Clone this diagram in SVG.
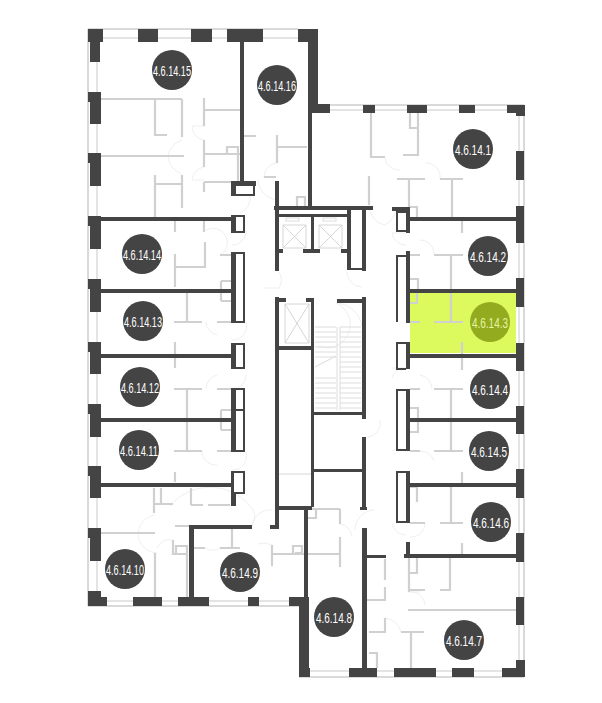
<svg xmlns="http://www.w3.org/2000/svg" width="602" height="703" viewBox="0 0 602 703">
<style>
.win{fill:none;stroke:#b4b4b4;stroke-width:1}
.win2{fill:none;stroke:#dcdcdc;stroke-width:1.5}
.door{fill:none;stroke:#efefef;stroke-width:1}
.part{fill:none;stroke:#d0d0d0;stroke-width:2.2}
.lift{fill:none;stroke:#d6d6d6;stroke-width:1}
.tread{fill:none;stroke:#dcdcdc;stroke-width:1}
.d{fill:#444}
.shaft{fill:#fff;stroke:#444;stroke-width:2}
.lab circle{fill:#444}
.lab text{fill:#fff;font-family:"Liberation Sans",Arial,sans-serif;font-size:15px;text-anchor:middle}
</style>
<rect width="602" height="703" fill="#fff"/>
<rect x="410" y="293" width="106" height="60" fill="#dcfa5e"/>
<g id="windows">
<path class="win" d="M88 606V29H298M318 105H524V677H299M88 606H299"/>
<path class="win2" d="M97 42V592M101 38H298M330 110H516M519 116V668M310 671H516M107 601H290"/>
</g>
<g id="doors">
<path class="door" d="M192 126H204M192 126A14 14 0 0 0 204 140M192 180H204M192 180A14 14 0 0 1 204 167M182 140A20 20 0 0 0 168 156A20 20 0 0 0 182 174M264 177H276M264 177A14 14 0 0 1 277 163M258 180A22 22 0 0 0 277 200M250 196A16 16 0 0 1 240 213M385 158A14 14 0 0 0 400 170M425 163A14 14 0 0 1 440 179M369 205A20 20 0 0 0 385 225A20 20 0 0 0 396 207M392 233H406M392 233A14 14 0 0 0 406 245M420 240A14 14 0 0 1 434 255M279 272A15 15 0 0 1 279 288M279 288H265M347 272A15 15 0 0 0 362 287M318 346A22 22 0 0 0 336 303M336 303A28 28 0 0 1 362 326M206 230A14 14 0 0 1 220 255M246 230A14 14 0 0 1 232 245M206 322A14 14 0 0 0 217 335M246 322A14 14 0 0 1 232 340M206 389A14 14 0 0 1 217 375M246 375A14 14 0 0 1 232 389M202 451A14 14 0 0 0 217 465M246 452A14 14 0 0 1 232 470M392 368H406M392 378A14 14 0 0 1 406 368M420 375A14 14 0 0 1 432 389M392 451A14 14 0 0 1 406 451M420 451A14 14 0 0 1 434 461M392 523A14 14 0 0 0 406 535M425 523A14 14 0 0 1 410 537M380 420A14 14 0 0 1 366 437M375 510A20 20 0 0 0 355 530M340 524A14 14 0 0 1 352 537M155 515A20 20 0 0 0 138 533A20 20 0 0 0 157 553M170 506A52 52 0 0 1 250 506A14 14 0 0 1 252 525M252 527A18 18 0 0 1 272 510M272 545A18 18 0 0 0 258 544M173 540A14 14 0 0 0 157 548M205 548A14 14 0 0 0 220 548M409 592A14 14 0 0 1 425 605M385 618A18 18 0 0 1 401 632M420 592H409"/>
</g>
<g id="partitions">
<path class="part" d="M101 99H182M155 99V135H167M182 99V137M101 156H184M204 98V126M204 110H240M204 140V167M204 154H240M227 154V147H238V181M204 182V192M204 182H231M155 175V217M155 184H181M182 175V208M175 220V232M204 220V232M244 136H256M277 135V163M277 147H307M297 206V197H305V206M264 177H276M371 113V157H385"/>
<path class="part" d="M403 155H418V113M410 113V128H417M369 176V205M397 179H425M440 179H463M409 179V207M452 179V217M410 207H417V217M462 221V233M410 255H420M434 255H463M451 255V322M410 279H418V289M410 322H420M434 322H463M410 303H417V293M462 342V370M410 389H420M434 389H463M451 389V451M410 408H418V432H410M410 420H418M410 451H420M434 451H463M462 472V483M451 487V522M410 487H417V502M410 523H425M440 523H463M462 543V555M409 592V558M417 558V573H409M450 558V590H440M425 590H409M408 610H516M385 559V580M385 587V600H367M385 618V632H369M401 632H424M411 632V668M369 653H377V668M308 509H340M308 518H316V509M340 509V524M340 537V567M308 554H340M295 546H302V553H295"/>
<path class="part" d="M175 472V482M154 488V513M161 488V503M154 504H173M191 488V505M191 505H203M208 505H230M101 533H155M155 553V597M175 526H190M173 540V554H187M176 554V546H187V597M232 529V548M194 548H205M220 548H240M272 545V566M272 554H305M293 554V546H303M175 254V287M175 267H205V242M220 255H231M187 293V322M174 322H202M217 322H231M221 281H231M221 291H231M221 301H231M221 281V301M175 342V368M174 389H202M217 389H231M187 389V450M174 451H202M217 451H231M221 410H231M221 420H231M221 430H231M221 410V430"/>
</g>
<g id="stairs">
<path class="tread" d="M315 327H336M340 327H361M315 332H336M340 332H361M315 337H336M340 337H361M315 342H336M340 342H361M315 347H336M340 347H361M315 352H336M340 352H361M315 357H336M340 357H361M340 362H361M340 367H361M340 372H361M315 378H336M340 378H361M315 383H336M340 383H361M315 388H336M340 388H361M315 393H336M340 393H361M315 398H336M340 398H361M315 403H336M340 403H361M315 408H336M340 408H361M337 327V410M340 327V410M315 367L336 356"/>
</g>
<g id="lifts">
<path class="lift" d="M283 225H306V248H283ZM283 225L306 248M306 225L283 248M319 225H342V248H319ZM319 225L342 248M342 225L319 248M285 304H309V343H285ZM285 304L309 343M309 304L285 343M279 474H312"/>
<rect x="286" y="218" width="13" height="3" fill="none" stroke="#ddd"/>
<rect x="323" y="218" width="13" height="3" fill="none" stroke="#ddd"/>
</g>
<g id="walls">
<path class="d" d="M88 29H103V42H100V62H90V42H88ZM138 29H158V42H138ZM191 29H212V42H191ZM227 29H263V42H227ZM298 29H318V104H330V113H312V207H308V42H298Z"/>
<path class="d" d="M88 92H101V124H90V102H88ZM88 153H101V186H90V163H88ZM88 216H101V249H90V226H88ZM88 279H101V312H90V289H88ZM88 342H101V374H90V352H88ZM88 404H101V437H90V414H88ZM88 466H101V498H90V476H88ZM88 528H101V561H90V538H88ZM88 591H101V597H107V606H88Z"/>
<path class="d" d="M133 597H162V606H133ZM178 597H209V606H178ZM248 597H259V606H248ZM289 597H303V606H289ZM304 510H308V600H304ZM299 597H309V677H299Z"/>
<path class="d" d="M363 105H375V113H363ZM407 105H427V113H407ZM459 105H475V113H459ZM507 105H525V116H516V113H507ZM516 151H524V180H516ZM516 206H524V243H516ZM516 278H524V307H516ZM516 343H524V371H516ZM516 406H524V434H516ZM516 469H524V498H516ZM516 533H524V562H516ZM516 597H524V625H516ZM516 660H525V677H502V668H516ZM349 668H377V677H349ZM394 668H436V677H394ZM452 668H474V677H452ZM299 668H310V677H299Z"/>
<path class="d" d="M101 217H231V221H101ZM101 289H231V293H101ZM101 354H231V358H101ZM101 418H231V422H101ZM101 483H231V487H101ZM240 42H244V181H240ZM410 217H516V221H410ZM410 289H516V293H410ZM410 354H516V358H410ZM410 418H516V422H410ZM410 483H516V487H410ZM404 554H517V558H404Z"/>
<path class="d" d="M231 181H256V186H231ZM231 181H236V196H231ZM236 194H255V196H236ZM253 186H255V196H253Z"/>
<path class="d" d="M275 181H279V271H275ZM274 206H373V210H274ZM277 214H348V217H277ZM311 214H314V251H311ZM276 249H283V253H276ZM303 249H320V253H303ZM341 249H348V253H341ZM347 210H351V270H347ZM362 210H366V271H362ZM349 268H365V270H349Z"/>
<path class="d" d="M275 297H279V529H275ZM278 298H286V302H278ZM306 298H314V302H306ZM311 298H314V507H311ZM277 346H313V350H277ZM270 525H279V529H270ZM337 299H366V303H337ZM362 297H366V419H362ZM313 412H365V415H313ZM362 437H366V509H362ZM313 469H363V472H313ZM360 507H367V510H360ZM277 506H312V510H277ZM277 506H311V510H277Z"/>
<path class="d" d="M362 528H367V668H362ZM367 555H386V558H367Z"/>
<path class="d" d="M392 207H410V211H392ZM406 207H410V233H406ZM406 251H410V323H406ZM406 342H410V369H406ZM406 389H410V451H406ZM406 471H410V523H406ZM406 542H410V558H406ZM231 471H236V506H231ZM189 525H252V529H189ZM189 525H194V597H189Z"/>
<rect class="shaft" x="233" y="216" width="11" height="16"/><rect class="shaft" x="233" y="253" width="11" height="69"/><rect class="shaft" x="233" y="344" width="11" height="24"/><rect class="shaft" x="233" y="389" width="11" height="62"/><path class="shaft" d="M233 410H244"/><rect class="shaft" x="233" y="472" width="11" height="21"/>
<path class="d" d="M231 215H236V233H231ZM231 252H236V323H231ZM231 343H236V369H231ZM231 388H236V452H231Z"/>
<path class="shaft" style="fill:none" d="M406 212H397V231H406M406 256H397V322M406 343H397V369H406M406 390H397V450H406M406 472H397V522H406"/>
</g>
<g id="unit-4.6.14.15" class="lab"><circle cx="172" cy="70" r="20"/><text x="172" y="75.5" textLength="38" lengthAdjust="spacingAndGlyphs">4.6.14.15</text></g>
<g id="unit-4.6.14.16" class="lab"><circle cx="277" cy="85" r="20"/><text x="277" y="90.5" textLength="38" lengthAdjust="spacingAndGlyphs">4.6.14.16</text></g>
<g id="unit-4.6.14.1" class="lab"><circle cx="473" cy="149" r="20"/><text x="473" y="154.5" textLength="36" lengthAdjust="spacingAndGlyphs">4.6.14.1</text></g>
<g id="unit-4.6.14.2" class="lab"><circle cx="488" cy="256" r="20"/><text x="488" y="261.5" textLength="36" lengthAdjust="spacingAndGlyphs">4.6.14.2</text></g>
<g id="unit-4.6.14.3" class="lab"><circle cx="490" cy="322" r="20" style="fill:#93ab1f"/><text x="490" y="327.5" textLength="36" lengthAdjust="spacingAndGlyphs" style="fill:#e6f5a0">4.6.14.3</text></g>
<g id="unit-4.6.14.4" class="lab"><circle cx="490" cy="389" r="20"/><text x="490" y="394.5" textLength="36" lengthAdjust="spacingAndGlyphs">4.6.14.4</text></g>
<g id="unit-4.6.14.5" class="lab"><circle cx="489" cy="451" r="20"/><text x="489" y="456.5" textLength="36" lengthAdjust="spacingAndGlyphs">4.6.14.5</text></g>
<g id="unit-4.6.14.6" class="lab"><circle cx="491" cy="522" r="20"/><text x="491" y="527.5" textLength="36" lengthAdjust="spacingAndGlyphs">4.6.14.6</text></g>
<g id="unit-4.6.14.7" class="lab"><circle cx="464" cy="640" r="20"/><text x="464" y="645.5" textLength="36" lengthAdjust="spacingAndGlyphs">4.6.14.7</text></g>
<g id="unit-4.6.14.8" class="lab"><circle cx="334" cy="617" r="20"/><text x="334" y="622.5" textLength="36" lengthAdjust="spacingAndGlyphs">4.6.14.8</text></g>
<g id="unit-4.6.14.9" class="lab"><circle cx="240" cy="572" r="20"/><text x="240" y="577.5" textLength="36" lengthAdjust="spacingAndGlyphs">4.6.14.9</text></g>
<g id="unit-4.6.14.10" class="lab"><circle cx="125" cy="569" r="20"/><text x="125" y="574.5" textLength="38" lengthAdjust="spacingAndGlyphs">4.6.14.10</text></g>
<g id="unit-4.6.14.11" class="lab"><circle cx="139" cy="450" r="20"/><text x="139" y="455.5" textLength="38" lengthAdjust="spacingAndGlyphs">4.6.14.11</text></g>
<g id="unit-4.6.14.12" class="lab"><circle cx="140" cy="387" r="20"/><text x="140" y="392.5" textLength="38" lengthAdjust="spacingAndGlyphs">4.6.14.12</text></g>
<g id="unit-4.6.14.13" class="lab"><circle cx="143" cy="321" r="20"/><text x="143" y="326.5" textLength="38" lengthAdjust="spacingAndGlyphs">4.6.14.13</text></g>
<g id="unit-4.6.14.14" class="lab"><circle cx="142" cy="254" r="20"/><text x="142" y="259.5" textLength="38" lengthAdjust="spacingAndGlyphs">4.6.14.14</text></g>
</svg>
